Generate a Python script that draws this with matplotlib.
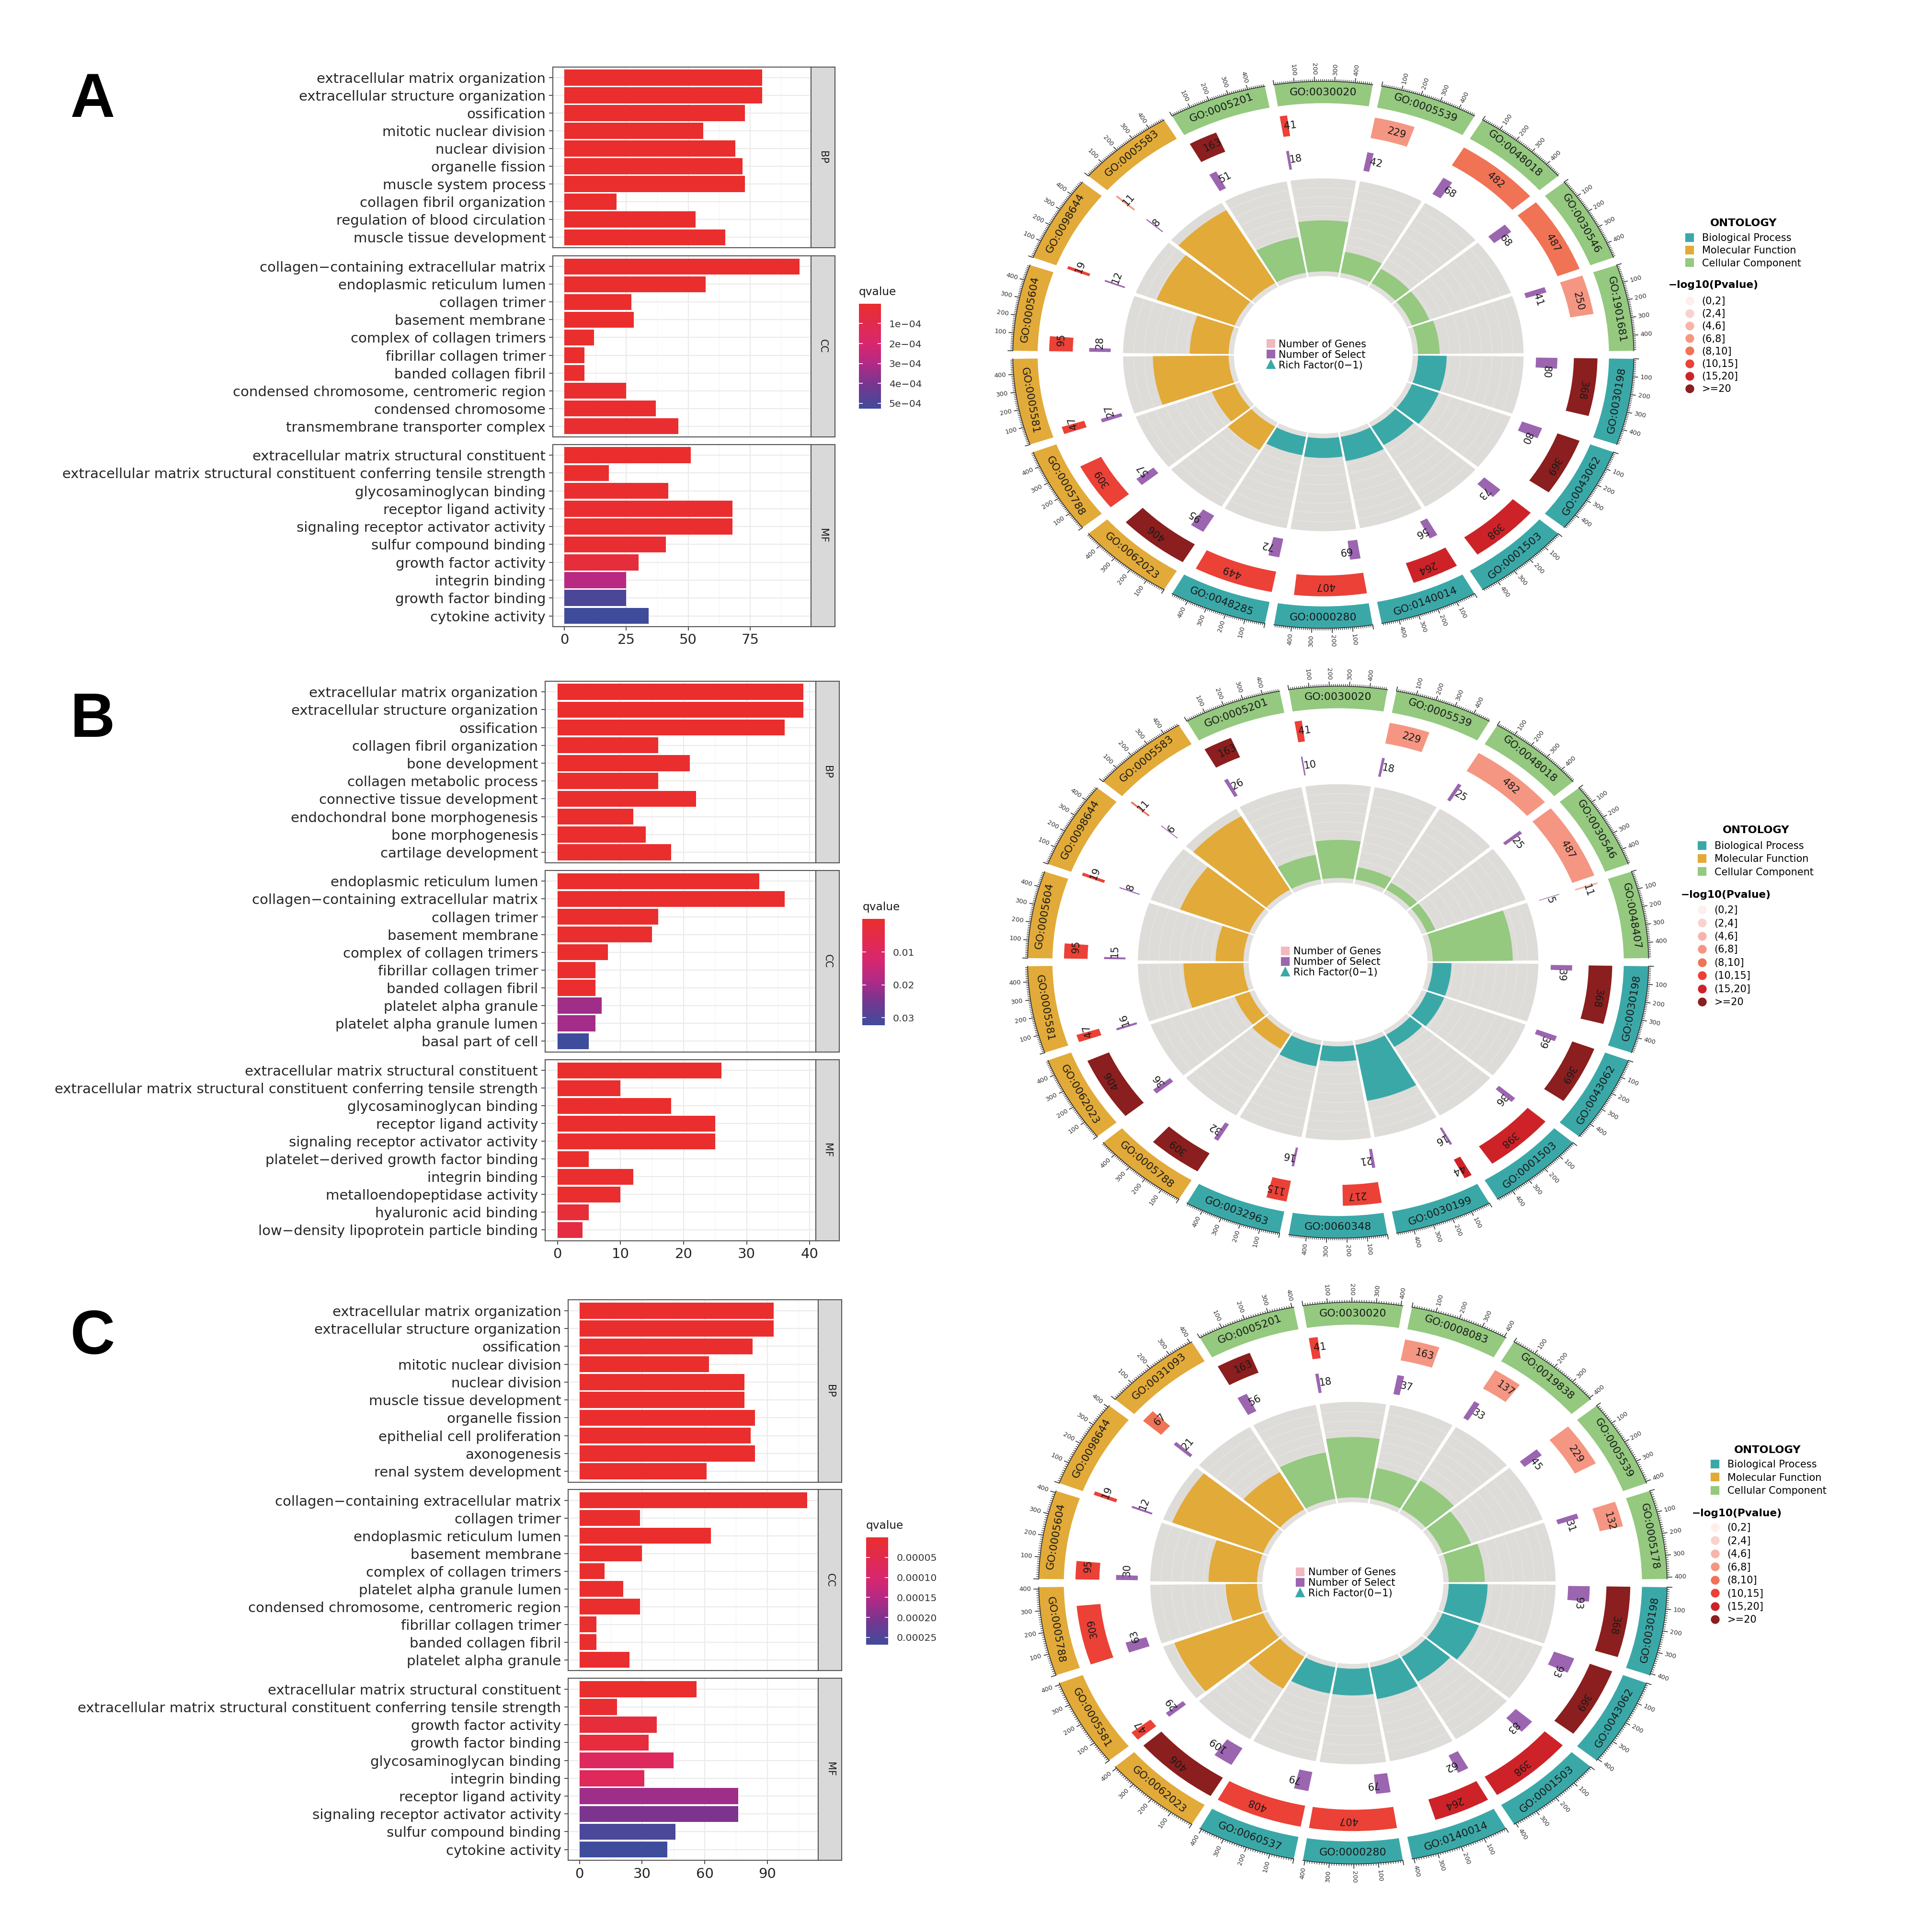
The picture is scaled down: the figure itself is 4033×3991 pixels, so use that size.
import numpy as np
import matplotlib
matplotlib.use('Agg')
import matplotlib.pyplot as plt
from matplotlib.colors import LinearSegmentedColormap, Normalize
from matplotlib.cm import ScalarMappable
from matplotlib.lines import Line2D

plt.rcParams['font.family'] = ['DejaVu Sans']
plt.rcParams['axes.linewidth'] = 0.5

# ---------------- bar charts: term / Count / qvalue ----------------
# panel A
a_bp_terms = ['extracellular matrix organization', 'extracellular structure organization', 'ossification',
              'mitotic nuclear division', 'nuclear division', 'organelle fission', 'muscle system process',
              'collagen fibril organization', 'regulation of blood circulation', 'muscle tissue development']
a_bp_count = [80, 80, 73, 56, 69, 72, 73, 21, 53, 65]
a_bp_q = [1e-20, 1e-20, 1e-17, 1e-12, 1e-11, 1e-11, 2e-10, 4e-9, 3e-9, 5e-9]
a_cc_terms = ['collagen\u2212containing extracellular matrix', 'endoplasmic reticulum lumen', 'collagen trimer',
              'basement membrane', 'complex of collagen trimers', 'fibrillar collagen trimer', 'banded collagen fibril',
              'condensed chromosome, centromeric region', 'condensed chromosome', 'transmembrane transporter complex']
a_cc_count = [95, 57, 27, 28, 12, 8, 8, 25, 37, 46]
a_cc_q = [1e-20, 1e-10, 1e-9, 5e-8, 2e-7, 1e-6, 1e-6, 5e-6, 6e-6, 1e-5]
a_mf_terms = ['extracellular matrix structural constituent',
              'extracellular matrix structural constituent conferring tensile strength',
              'glycosaminoglycan binding', 'receptor ligand activity', 'signaling receptor activator activity',
              'sulfur compound binding', 'growth factor activity', 'integrin binding', 'growth factor binding',
              'cytokine activity']
a_mf_count = [51, 18, 42, 68, 68, 41, 30, 25, 25, 34]
a_mf_q = [1e-9, 2e-6, 5e-6, 6e-6, 6e-6, 1e-5, 4e-5, 2.8e-4, 5.0e-4, 5.27e-4]
a_qticks = [1e-4, 2e-4, 3e-4, 4e-4, 5e-4]
a_qlabels = ['1e\u221204', '2e\u221204', '3e\u221204', '4e\u221204', '5e\u221204']
a_xticks = [0, 25, 50, 75]

# panel B
b_bp_terms = ['extracellular matrix organization', 'extracellular structure organization', 'ossification',
              'collagen fibril organization', 'bone development', 'collagen metabolic process',
              'connective tissue development', 'endochondral bone morphogenesis', 'bone morphogenesis',
              'cartilage development']
b_bp_count = [39, 39, 36, 16, 21, 16, 22, 12, 14, 18]
b_bp_q = [1e-20, 1e-20, 1e-15, 1e-12, 1e-9, 1e-9, 1e-8, 1e-7, 1e-7, 1e-7]
b_cc_terms = ['endoplasmic reticulum lumen', 'collagen\u2212containing extracellular matrix', 'collagen trimer',
              'basement membrane', 'complex of collagen trimers', 'fibrillar collagen trimer',
              'banded collagen fibril', 'platelet alpha granule', 'platelet alpha granule lumen', 'basal part of cell']
b_cc_count = [32, 36, 16, 15, 8, 6, 6, 7, 6, 5]
b_cc_q = [1e-20, 1e-20, 1e-12, 1e-9, 1e-8, 1e-6, 1e-6, 0.0205, 0.0200, 0.0322]
b_mf_terms = ['extracellular matrix structural constituent',
              'extracellular matrix structural constituent conferring tensile strength',
              'glycosaminoglycan binding', 'receptor ligand activity', 'signaling receptor activator activity',
              'platelet\u2212derived growth factor binding', 'integrin binding', 'metalloendopeptidase activity',
              'hyaluronic acid binding', 'low\u2212density lipoprotein particle binding']
b_mf_count = [26, 10, 18, 25, 25, 5, 12, 10, 5, 4]
b_mf_q = [1e-15, 1e-8, 1e-8, 1e-7, 1e-7, 1e-5, 1e-4, 3e-4, 2e-3, 3.5e-3]
b_qticks = [0.01, 0.02, 0.03]
b_qlabels = ['0.01', '0.02', '0.03']
b_xticks = [0, 10, 20, 30, 40]

# panel C
c_bp_terms = ['extracellular matrix organization', 'extracellular structure organization', 'ossification',
              'mitotic nuclear division', 'nuclear division', 'muscle tissue development', 'organelle fission',
              'epithelial cell proliferation', 'axonogenesis', 'renal system development']
c_bp_count = [93, 93, 83, 62, 79, 79, 84, 82, 84, 61]
c_bp_q = [1e-20, 1e-20, 1e-16, 1e-12, 1e-12, 1e-11, 1e-11, 1e-10, 1e-10, 1e-9]
c_cc_terms = ['collagen\u2212containing extracellular matrix', 'collagen trimer', 'endoplasmic reticulum lumen',
              'basement membrane', 'complex of collagen trimers', 'platelet alpha granule lumen',
              'condensed chromosome, centromeric region', 'fibrillar collagen trimer', 'banded collagen fibril',
              'platelet alpha granule']
c_cc_count = [109, 29, 63, 30, 12, 21, 29, 8, 8, 24]
c_cc_q = [1e-20, 1e-12, 1e-11, 1e-9, 1e-8, 1e-7, 1e-7, 1e-6, 1e-6, 2e-6]
c_mf_terms = ['extracellular matrix structural constituent',
              'extracellular matrix structural constituent conferring tensile strength',
              'growth factor activity', 'growth factor binding', 'glycosaminoglycan binding', 'integrin binding',
              'receptor ligand activity', 'signaling receptor activator activity', 'sulfur compound binding',
              'cytokine activity']
c_mf_count = [56, 18, 37, 33, 45, 31, 76, 76, 46, 42]
c_mf_q = [5e-7, 5e-6, 2.0e-5, 2.5e-5, 7.5e-5, 7.0e-5, 1.7e-4, 2.0e-4, 2.55e-4, 2.68e-4]
c_qticks = [5e-5, 1e-4, 1.5e-4, 2e-4, 2.5e-4]
c_qlabels = ['0.00005', '0.00010', '0.00015', '0.00020', '0.00025']
c_xticks = [0, 30, 60, 90]

# ---------------- GO circles (sectors clockwise from 3 o'clock) ----------------
a_go = ['GO:0030198', 'GO:0043062', 'GO:0001503', 'GO:0140014', 'GO:0000280', 'GO:0048285',
        'GO:0062023', 'GO:0005788', 'GO:0005581', 'GO:0005604', 'GO:0098644', 'GO:0005583',
        'GO:0005201', 'GO:0030020', 'GO:0005539', 'GO:0048018', 'GO:0030546', 'GO:1901681']
a_onto = ['BP', 'BP', 'BP', 'BP', 'BP', 'BP', 'CC', 'CC', 'CC', 'CC', 'CC', 'CC',
          'MF', 'MF', 'MF', 'MF', 'MF', 'MF']
a_genes = [368, 369, 398, 264, 407, 449, 406, 309, 47, 95, 19, 11, 163, 41, 229, 482, 487, 250]
a_select = [80, 80, 73, 56, 69, 72, 95, 57, 27, 28, 12, 8, 51, 18, 42, 68, 68, 41]
a_pbin = [7, 7, 6, 6, 5, 5, 7, 5, 5, 5, 5, 3, 7, 5, 3, 4, 4, 3]

b_go = ['GO:0030198', 'GO:0043062', 'GO:0001503', 'GO:0030199', 'GO:0060348', 'GO:0032963',
        'GO:0005788', 'GO:0062023', 'GO:0005581', 'GO:0005604', 'GO:0098644', 'GO:0005583',
        'GO:0005201', 'GO:0030020', 'GO:0005539', 'GO:0048018', 'GO:0030546', 'GO:0048407']
b_onto = a_onto
b_genes = [368, 369, 398, 44, 217, 115, 309, 406, 47, 95, 19, 11, 163, 41, 229, 482, 487, 11]
b_select = [39, 39, 36, 16, 21, 16, 32, 36, 16, 15, 8, 6, 26, 10, 18, 25, 25, 5]
b_pbin = [7, 7, 6, 6, 5, 5, 7, 7, 5, 5, 5, 4, 7, 5, 3, 3, 3, 2]

c_go = ['GO:0030198', 'GO:0043062', 'GO:0001503', 'GO:0140014', 'GO:0000280', 'GO:0060537',
        'GO:0062023', 'GO:0005581', 'GO:0005788', 'GO:0005604', 'GO:0098644', 'GO:0031093',
        'GO:0005201', 'GO:0030020', 'GO:0008083', 'GO:0019838', 'GO:0005539', 'GO:0005178']
c_onto = a_onto
c_genes = [368, 369, 398, 264, 407, 408, 406, 47, 309, 95, 19, 67, 163, 41, 163, 137, 229, 132]
c_select = [93, 93, 83, 62, 79, 79, 109, 29, 63, 30, 12, 21, 56, 18, 37, 33, 45, 31]
c_pbin = [7, 7, 6, 6, 5, 5, 7, 5, 5, 5, 5, 4, 7, 5, 3, 3, 3, 3]

ont_color = {'BP': '#3BA8A8', 'CC': '#E2AA38', 'MF': '#94C97F'}
ont_legend = ['Biological Process', 'Molecular Function', 'Cellular Component']
ont_legend_color = ['#3BA8A8', '#E2AA38', '#94C97F']
p_bins = ['(0,2]', '(2,4]', '(4,6]', '(6,8]', '(8,10]', '(10,15]', '(15,20]', '>=20']
p_colors = ['#FDEFEC', '#FAD2CD', '#F8B4AA', '#F59682', '#F07355', '#EB4137', '#CD2328', '#8B1E1E']
center_labels = ['Number of Genes', 'Number of Select', 'Rich Factor(0\u22121)']
select_color = '#9B65B0'
genes_key_color = '#F2B8C0'

qcmap = LinearSegmentedColormap.from_list(
    'q', [(0, '#EA2E2E'), (0.38, '#D8276E'), (0.57, '#B32A85'), (0.76, '#7A358F'), (1, '#3F4B9B')])

# layout grid: reference pixels of the 1568x1552 preview
W, H = 1568.0, 1552.0
fig = plt.figure(figsize=(4033 / 300, 3991 / 300), dpi=300)


def box(x0, y0, x1, y1):
    return [x0 / W, 1 - y1 / H, (x1 - x0) / W, (y1 - y0) / H]


def bar_panel(x0, x1, xs, facet_y, blocks, xticks):
    allq = np.concatenate([b[2] for b in blocks])
    norm = Normalize(allq.min(), allq.max())
    cmax = max(max(b[1]) for b in blocks)
    step = xticks[1] - xticks[0]
    minors = np.arange(xticks[0] + step / 2, 1.05 * cmax, step)
    for k, ((terms, counts, qv), strip) in enumerate(zip(blocks, ['BP', 'CC', 'MF'])):
        y0, y1 = facet_y[k]
        ax = fig.add_axes(box(x0, y0, x1, y1))
        pos = np.arange(len(terms))[::-1]
        ax.barh(pos, counts, height=0.9, color=qcmap(norm(np.asarray(qv))), zorder=2)
        ax.set_xlim(-0.05 * cmax, 1.05 * cmax)
        ax.set_ylim(-0.6, len(terms) - 0.4)
        ax.set_yticks(pos, terms)
        ax.set_xticks(xticks)
        ax.set_xticks(minors, minor=True)
        ax.set_axisbelow(True)
        ax.grid(which='major', color='#EBEBEB', lw=0.55)
        ax.grid(which='minor', color='#F4F4F4', lw=0.3)
        ax.tick_params(which='minor', length=0)
        ax.tick_params(which='major', length=2, width=0.4, color='#333333', labelsize=7.0,
                       labelcolor='#262626', pad=1.5)
        if k < 2:
            ax.tick_params(axis='x', length=0, labelbottom=False)
        for sp in ax.spines.values():
            sp.set_color('#555555')
        sax = fig.add_axes(box(x1, y0, xs, y1))
        sax.set_facecolor('#D9D9D9')
        sax.set_xticks([])
        sax.set_yticks([])
        for sp in sax.spines.values():
            sp.set_color('#555555')
        sax.text(0.5, 0.5, strip, rotation=-90, ha='center', va='center', fontsize=5,
                 color='#1A1A1A', transform=sax.transAxes)
    return norm


def q_colorbar(norm, x0, y0, x1, y1, ticks, labels):
    cax = fig.add_axes(box(x0, y0, x1, y1))
    cb = fig.colorbar(ScalarMappable(norm=norm, cmap=qcmap), cax=cax)
    cb.outline.set_visible(False)
    cax.invert_yaxis()
    cb.set_ticks(ticks, labels=labels)
    cax.tick_params(direction='in', length=1.8, width=0.4, color='white', left=True, right=True,
                    labelsize=4.9, labelcolor='#333333', pad=4)
    fig.text(x0 / W, 1 - (y0 - 7) / H, 'qvalue', fontsize=5.6, ha='left', va='baseline', color='#1A1A1A')


R_MAX = 1.10


def go_circle(cx, cy, rx, ry, go_ids, onto, genes, select, pbin):
    ax = fig.add_axes(box(cx - rx * R_MAX, cy - ry * R_MAX, cx + rx * R_MAX, cy + ry * R_MAX),
                      projection='polar')
    ax.set_theta_zero_location('N')
    ax.set_theta_direction(-1)
    n = len(go_ids)
    step = 2 * np.pi / n
    start = np.pi / 2 + step * np.arange(n)
    mid = start + step / 2
    gap_o = np.deg2rad(1.7)
    gap_i = np.deg2rad(1.1)
    span = step - gap_o
    s0 = start + gap_o / 2
    genes = np.asarray(genes, float)
    select = np.asarray(select, float)
    xmax = genes.max()
    cols = [ont_color[o] for o in onto]

    # outer ontology band with GO ids and the count axis
    ax.bar(mid, 0.08, width=span, bottom=0.92, color=cols, linewidth=0)
    for i in range(n):
        th = np.linspace(s0[i], s0[i] + span, 60)
        ax.plot(th, np.full_like(th, 1.0), color='#333333', lw=0.4)
    minor = np.arange(0, xmax + 1, 10)
    major = np.arange(0, xmax + 1, 100)
    ax.vlines((s0[:, None] + minor[None, :] / xmax * span).ravel(), 1.0, 1.008, color='#333333', lw=0.3)
    ax.vlines((s0[:, None] + major[None, :] / xmax * span).ravel(), 1.0, 1.017, color='#333333', lw=0.4)
    for i in range(n):
        for v in major[1:]:
            th = s0[i] + v / xmax * span
            d = np.rad2deg(th) % 360
            if d <= 180:
                rot, ha = 90 - d, 'left'
            else:
                rot, ha = 270 - d, 'right'
            ax.text(th, 1.024, f'{int(v)}', rotation=rot, rotation_mode='anchor', ha=ha, va='center',
                    fontsize=3.2, color='#333333')
        d = np.rad2deg(mid[i]) % 360
        rot = -d if (d < 90 or d >= 270) else 180 - d
        ax.text(mid[i], 0.96, go_ids[i], rotation=rot, rotation_mode='anchor', ha='center', va='center',
                fontsize=5.3, color='#1A1A1A')

    # number of genes / number of select tracks
    ax.bar(s0, 0.076, width=genes / xmax * span, bottom=0.807, align='edge',
           color=[p_colors[b] for b in pbin], linewidth=0)
    ax.bar(s0, 0.069, width=select / xmax * span, bottom=0.685, align='edge', color=select_color, linewidth=0)
    for i in range(n):
        th = s0[i] + (0.5 * genes[i] + 0.06 * xmax) / xmax * span
        ax.text(th, 0.845, f'{int(genes[i])}', rotation=-np.rad2deg(th), rotation_mode='anchor',
                ha='center', va='center', fontsize=5, color='#1A1A1A')
        th = s0[i] + 0.75 * select[i] / xmax * span
        ax.text(th, 0.72, f'{int(select[i])}', rotation=-np.rad2deg(th), rotation_mode='anchor',
                ha='left', va='center', fontsize=5, color='#1A1A1A')

    # rich factor track
    r_in, ring_w = 0.305, 0.34
    ax.bar(mid, ring_w, width=step - gap_i, bottom=r_in, color='#DEDCD9', linewidth=0)
    for r in np.linspace(r_in, r_in + ring_w, 11)[1:-1]:
        for i in range(n):
            th = np.linspace(start[i] + gap_i / 2, start[i] + step - gap_i / 2, 30)
            ax.plot(th, np.full_like(th, r), color='#E7E5E2', lw=0.35)
    rf = select / genes
    ax.bar(mid, rf / (1.1 * rf.max()) * ring_w, width=step - gap_i, bottom=r_in, color=cols,
           linewidth=0, zorder=3)
    ax.bar(mid, 0.017, width=step - gap_i, bottom=0.288, color='#E2E0DD', linewidth=0)

    ax.set_ylim(0, R_MAX)
    ax.set_axis_off()
    ax.set_aspect('auto')

    handles = [Line2D([], [], ls='none', marker='s', ms=3.2, color=genes_key_color),
               Line2D([], [], ls='none', marker='s', ms=3.2, color=select_color),
               Line2D([], [], ls='none', marker='^', ms=3.4, color=ont_color['BP'])]
    ax.legend(handles=handles, labels=center_labels, loc='center', bbox_to_anchor=(0.49, 0.5),
              frameon=False, fontsize=5.0, handlelength=0.8, handletextpad=0.4, labelspacing=0.1,
              borderpad=0, borderaxespad=0)


def side_legends(mx, tcx, tty, oy0, px, pty, py0, pitch):
    fs = 5.0
    ls = (pitch * 2.572 * 72 / 300 - fs * 1.16) / fs
    hw = 1.2 * fs * 300 / 72 / 2.572 / 2
    top_off = fs * 1.16 / 2 * 300 / 72 / 2.572
    fig.text(tcx / W, 1 - tty / H, 'ONTOLOGY', ha='center', va='center', fontsize=5.4, weight='bold')
    oh = [Line2D([], [], ls='none', marker='s', ms=3.2, color=c) for c in ont_legend_color]
    fig.legend(oh, ont_legend, loc='upper left', bbox_to_anchor=((mx - hw) / W, 1 - (oy0 - top_off) / H),
               frameon=False, fontsize=fs, handlelength=1.2, handletextpad=0.62, labelspacing=ls,
               borderpad=0, borderaxespad=0)
    fig.text(px / W, 1 - pty / H, '\u2212log10(Pvalue)', ha='left', va='center', fontsize=5.2, weight='bold')
    ph = [Line2D([], [], ls='none', marker='o', ms=3.4, color=c) for c in p_colors]
    fig.legend(ph, p_bins, loc='upper left', bbox_to_anchor=((mx - hw) / W, 1 - (py0 - top_off) / H),
               frameon=False, fontsize=fs, handlelength=1.2, handletextpad=0.62, labelspacing=ls,
               borderpad=0, borderaxespad=0)


def panel_letter(x, y, s):
    fig.text(x / W, 1 - y / H, s, fontsize=31, weight='bold', ha='left', va='baseline',
             family=['Liberation Sans'])


# ---------------- panel A ----------------
panel_letter(57, 95, 'A')
na = bar_panel(448.6, 658.4, 677.6, [(54.3, 201.2), (207.7, 354.6), (360.8, 508.6)],
               [(a_bp_terms, a_bp_count, a_bp_q), (a_cc_terms, a_cc_count, a_cc_q),
                (a_mf_terms, a_mf_count, a_mf_q)], a_xticks)
q_colorbar(na, 697, 246.5, 715, 331.7, a_qticks, a_qlabels)
go_circle(1074, 288, 252, 222, a_go, a_onto, a_genes, a_select, a_pbin)
side_legends(1371.4, 1415, 181.2, 194.2, 1354, 231.5, 245.4, 11.8)

# ---------------- panel B ----------------
panel_letter(57, 598, 'B')
nb = bar_panel(442.4, 662.0, 681.2, [(552.9, 700.5), (706.6, 853.8), (860.3, 1007.0)],
               [(b_bp_terms, b_bp_count, b_bp_q), (b_cc_terms, b_cc_count, b_cc_q),
                (b_mf_terms, b_mf_count, b_mf_q)], b_xticks)
q_colorbar(nb, 700, 746, 718, 832, b_qticks, b_qlabels)
go_circle(1086, 781, 252, 224, b_go, b_onto, b_genes, b_select, b_pbin)
side_legends(1381.5, 1425, 674, 687.5, 1364, 726.4, 739.7, 12.3)

# ---------------- panel C ----------------
panel_letter(57, 1099, 'C')
nc = bar_panel(461.1, 664.2, 683.0, [(1055.2, 1203.0), (1209.2, 1356.0), (1362.4, 1510.0)],
               [(c_bp_terms, c_bp_count, c_bp_q), (c_cc_terms, c_cc_count, c_cc_q),
                (c_mf_terms, c_mf_count, c_mf_q)], c_xticks)
q_colorbar(nc, 703, 1248, 721, 1335, c_qticks, c_qlabels)
go_circle(1098, 1285, 255, 228, c_go, c_onto, c_genes, c_select, c_pbin)
side_legends(1392, 1434.6, 1177, 1189.7, 1373, 1228.5, 1241, 12.3)

fig.savefig('out.png', dpi=300)
